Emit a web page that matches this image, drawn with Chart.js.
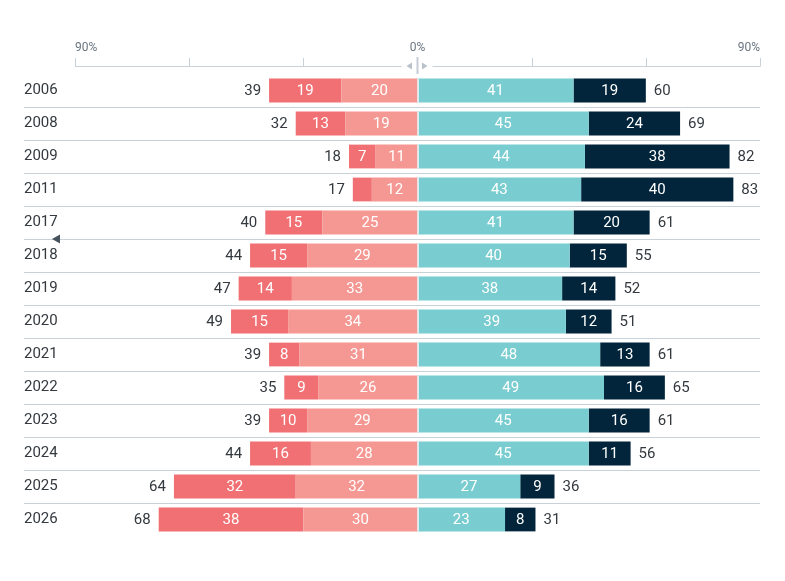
<!DOCTYPE html>
<html>
<head>
<meta charset="utf-8">
<script src="https://cdn.jsdelivr.net/npm/chart.js@4/dist/chart.umd.min.js"></script>
<style>
  html, body { margin: 0; padding: 0; background: #ffffff; }
  #wrap { width: 785px; height: 581px; position: relative; }
</style>
</head>
<body>
<div id="wrap"><canvas id="c" width="785" height="581"></canvas></div>
<script>
// ---- data ----
const years = ['2006','2008','2009','2011','2017','2018','2019','2020','2021','2022','2023','2024','2025','2026'];
const disagree        = [20, 19, 11, 12, 25, 29, 33, 34, 31, 26, 29, 28, 32, 30];
const stronglyDisagree = [19, 13, 7, 5, 15, 15, 14, 15, 8, 9, 10, 16, 32, 38];
const agree           = [41, 45, 44, 43, 41, 40, 38, 39, 48, 49, 45, 45, 27, 23];
const stronglyAgree   = [19, 24, 38, 40, 20, 15, 14, 12, 13, 16, 16, 11, 9, 8];
const totalNegative   = [39, 32, 18, 17, 40, 44, 47, 49, 39, 35, 39, 44, 64, 68];
const totalPositive   = [60, 69, 82, 83, 61, 55, 52, 51, 61, 65, 61, 56, 36, 31];
const axisTicks = [-90, -60, -30, 0, 30, 60, 90];
const axisLabels = { '-90': '90%', '0': '0%', '90': '90%' };

const FONT = 'Roboto, "Liberation Sans", sans-serif';

const overlay = {
  id: 'overlay',
  beforeDatasetsDraw(chart) {
    const ctx = chart.ctx;
    const y = chart.scales.y, x = chart.scales.x;
    ctx.save();
    ctx.strokeStyle = '#c8d0d8';
    ctx.lineWidth = 1;
    for (let i = 0; i < years.length - 1; i++) {
      const gy = Math.round((y.getPixelForValue(i) + y.getPixelForValue(i + 1)) / 2) + 0.5;
      ctx.beginPath();
      ctx.moveTo(24, gy);
      ctx.lineTo(x.getPixelForValue(90), gy);
      ctx.stroke();
    }
    ctx.restore();
  },
  afterDatasetsDraw(chart) {
    const ctx = chart.ctx;
    const x = chart.scales.x, y = chart.scales.y;
    ctx.save();
    // white separator at zero
    const teal = chart.getDatasetMeta(2).data;
    ctx.fillStyle = '#ffffff';
    teal.forEach(el => {
      ctx.fillRect(el.base, el.y - el.height / 2, 1.2, el.height);
    });
    // in-bar labels
    ctx.font = '15px ' + FONT;
    ctx.textBaseline = 'middle';
    ctx.textAlign = 'center';
    chart.data.datasets.forEach((ds, di) => {
      const meta = chart.getDatasetMeta(di);
      meta.data.forEach((el, i) => {
        const v = Math.abs(ds.data[i]);
        if (v > 5) {
          const c = el.getCenterPoint();
          ctx.fillStyle = '#ffffff';
          ctx.fillText(String(v), c.x, c.y + 1);
        }
      });
    });
    // totals
    ctx.fillStyle = '#33393f';
    const negMeta = chart.getDatasetMeta(1).data;
    const posMeta = chart.getDatasetMeta(3).data;
    ctx.textAlign = 'right';
    negMeta.forEach((el, i) => ctx.fillText(String(totalNegative[i]), el.x - 8, el.y + 1));
    ctx.textAlign = 'left';
    posMeta.forEach((el, i) => ctx.fillText(String(totalPositive[i]), el.x + 8, el.y + 1));

    // top axis
    const axY = 66.5;
    const p0 = x.getPixelForValue(0);
    const pL = x.getPixelForValue(-90), pR = x.getPixelForValue(90);
    ctx.strokeStyle = '#c8d0d8';
    ctx.lineWidth = 1;
    ctx.beginPath();
    ctx.moveTo(pL, axY); ctx.lineTo(p0 - 16, axY);
    ctx.moveTo(p0 + 15, axY); ctx.lineTo(pR, axY);
    ctx.stroke();
    axisTicks.forEach(t => {
      if (t === 0) return;
      const px = Math.round(x.getPixelForValue(t)) + 0.5;
      ctx.beginPath();
      ctx.moveTo(px, 58); ctx.lineTo(px, axY);
      ctx.stroke();
    });
    // centre marker
    ctx.fillStyle = '#c5ccd4';
    ctx.fillRect(p0 - 1, 57, 2, 17);
    ctx.fillStyle = '#b9c1ca';
    ctx.beginPath();
    ctx.moveTo(p0 - 11, 66); ctx.lineTo(p0 - 5.5, 62.5); ctx.lineTo(p0 - 5.5, 69.5); ctx.closePath(); ctx.fill();
    ctx.beginPath();
    ctx.moveTo(p0 + 10, 66); ctx.lineTo(p0 + 4.5, 62.5); ctx.lineTo(p0 + 4.5, 69.5); ctx.closePath(); ctx.fill();
    // axis labels
    ctx.font = '12px ' + FONT;
    ctx.fillStyle = '#6a747f';
    ctx.textBaseline = 'middle';
    axisTicks.forEach(t => {
      const lab = axisLabels[String(t)];
      if (!lab) return;
      const px = x.getPixelForValue(t);
      ctx.textAlign = t < 0 ? 'left' : (t > 0 ? 'right' : 'center');
      ctx.fillText(lab, px, 48);
    });
    // small left marker
    const gy = (y.getPixelForValue(4) + y.getPixelForValue(5)) / 2;
    ctx.fillStyle = '#47525f';
    ctx.beginPath();
    ctx.moveTo(52, gy); ctx.lineTo(60, gy - 4.5); ctx.lineTo(60, gy + 4.5); ctx.closePath(); ctx.fill();
    ctx.restore();
  }
};

new Chart(document.getElementById('c'), {
  type: 'bar',
  data: {
    labels: years,
    datasets: [
      { label: 'Disagree', data: disagree.map(v => -v), backgroundColor: '#f59893' },
      { label: 'Strongly disagree', data: stronglyDisagree.map(v => -v), backgroundColor: '#f07073' },
      { label: 'Agree', data: agree, backgroundColor: '#79cdd0' },
      { label: 'Strongly agree', data: stronglyAgree, backgroundColor: '#02253b' }
    ]
  },
  options: {
    indexAxis: 'y',
    responsive: false,
    animation: false,
    devicePixelRatio: 1,
    layout: { padding: { left: 24, right: 25, top: 74, bottom: 45 } },
    datasets: { bar: { categoryPercentage: 1, barPercentage: 0.72, borderWidth: 0 } },
    plugins: { legend: { display: false }, tooltip: { enabled: false } },
    scales: {
      x: { type: 'linear', stacked: true, min: -90, max: 90, display: false },
      y: {
        type: 'category', stacked: true, position: 'left',
        grid: { display: false, drawTicks: false },
        border: { display: false },
        ticks: { crossAlign: 'far', padding: 0, color: '#33393f', font: { family: FONT, size: 15 } },
        afterFit(scale) { scale.width = 51; }
      }
    }
  },
  plugins: [overlay]
});
</script>
</body>
</html>
